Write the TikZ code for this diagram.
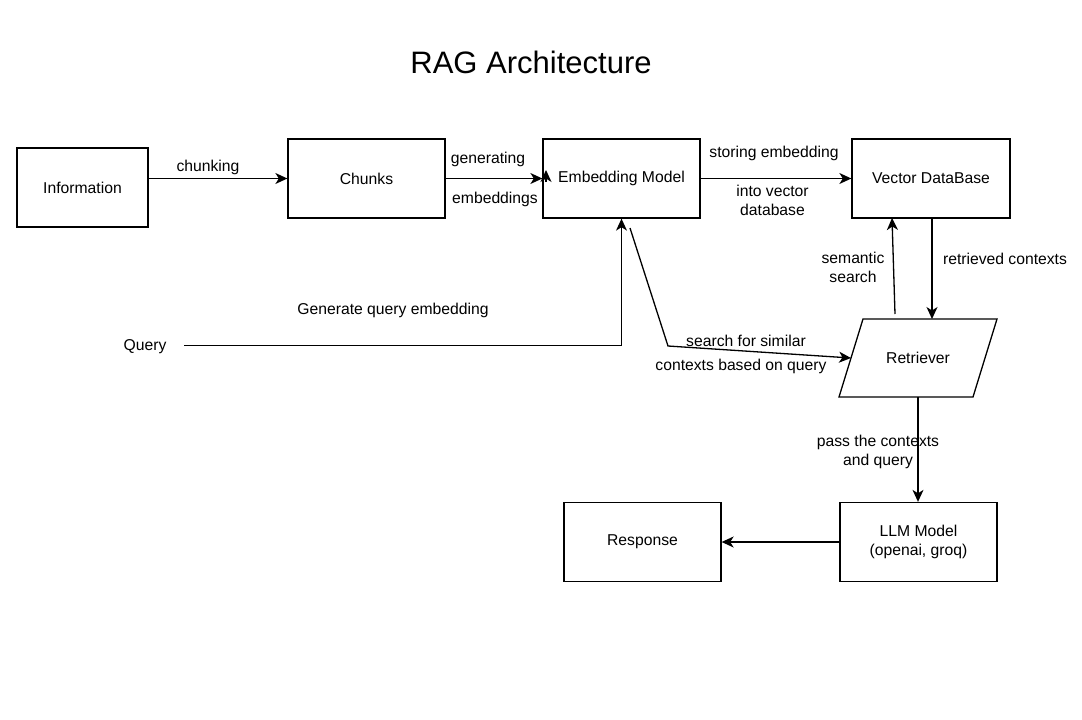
\documentclass[tikz,border=0pt]{standalone}
\usepackage{fontspec}
\setmainfont{Liberation Sans}
\usetikzlibrary{arrows.meta}
\begin{document}
\begin{tikzpicture}[x=1pt,y=-1pt,
  every node/.style={font=\fontsize{15.7}{18.8}\selectfont, inner sep=0pt},
  blk/.style={draw, line width=1.3pt, minimum width=157pt, minimum height=79pt},
  arr/.style={line width=1.3pt, -{Stealth[length=12pt,width=11pt,inset=3.5pt]}},
  lbl/.style={align=center, yshift=-1.5pt}]
\fill[white] (0,0) rectangle (1082,720);
\useasboundingbox (0,0) rectangle (1082,720);

\node (title) at (531,62) {\fontsize{31}{36}\selectfont RAG Architecture};

\node[blk, minimum width=131pt] (info) at (82.5,187.5) {Information};
\node[blk] (chunks) at (366.5,178.5) {Chunks};
\node[blk] (emb) at (621.5,178.5) {Embedding Model};
\node[blk, minimum width=158pt] (vdb) at (931,178.5) {Vector DataBase};
\node[minimum width=158pt, minimum height=78pt] (ret) at (918,358) {Retriever};
\draw[line width=1.3pt] (863,319) -- (997,319) -- (973,397) -- (839,397) -- cycle;
\node[blk, align=center] (llm) at (918.5,542) {LLM Model\\(openai, groq)};
\node[blk] (resp) at (642.5,542) {Response};
\node[lbl] (query) at (145,345) {Query};

% labels
\node[lbl] (l1) at (208,166) {chunking};
\node[lbl] (l2) at (488,158) {generating};
\node[lbl] (l3) at (495,198) {embeddings};
\node[lbl] (l4) at (774,152) {storing embedding};
\node[lbl] (l5) at (772.5,198.5) {into vector\\database};
\node[lbl] (l6) at (393,309) {Generate query embedding};
\node[lbl] (l7) at (746,339) {search for similar};
\node[lbl] (l8) at (741,365) {contexts based on query};
\node[lbl] (l9) at (853,265.5) {semantic\\search};
\node[lbl] (l10) at (1005,257) {retrieved contexts};
\node[lbl] (l11) at (878,450.5) {pass the contexts\\and query};

% coordinates
\coordinate (qs) at (184,345.5);
\coordinate (s1) at (630,228);
\coordinate (s2) at (668,346);
\coordinate (retw) at (851,358);
\coordinate (sem1) at (895,314);
\coordinate (sem2) at (892,218);
\coordinate (rc1) at (932,218);
\coordinate (rc2) at (932,319);
\coordinate (rb) at (918,397);
\coordinate (t1) at (546,182);
\coordinate (t2) at (546,170);

% connectors
\draw[arr] (info.east |- chunks) -- (chunks.west);
\draw[arr] (chunks.east) -- (emb.west);
\draw[arr] (t1) -- (t2);
\draw[arr] (emb.east) -- (vdb.west);
\draw[arr] (qs) -| (emb.south);
\draw[arr] (s1) -- (s2) -- (retw);
\draw[arr] (sem1) -- (sem2);
\draw[arr] (rc1) -- (rc2);
\draw[arr] (rb) -- (rb |- llm.north);
\draw[arr] (llm.west) -- (resp.east);
\end{tikzpicture}
\end{document}
